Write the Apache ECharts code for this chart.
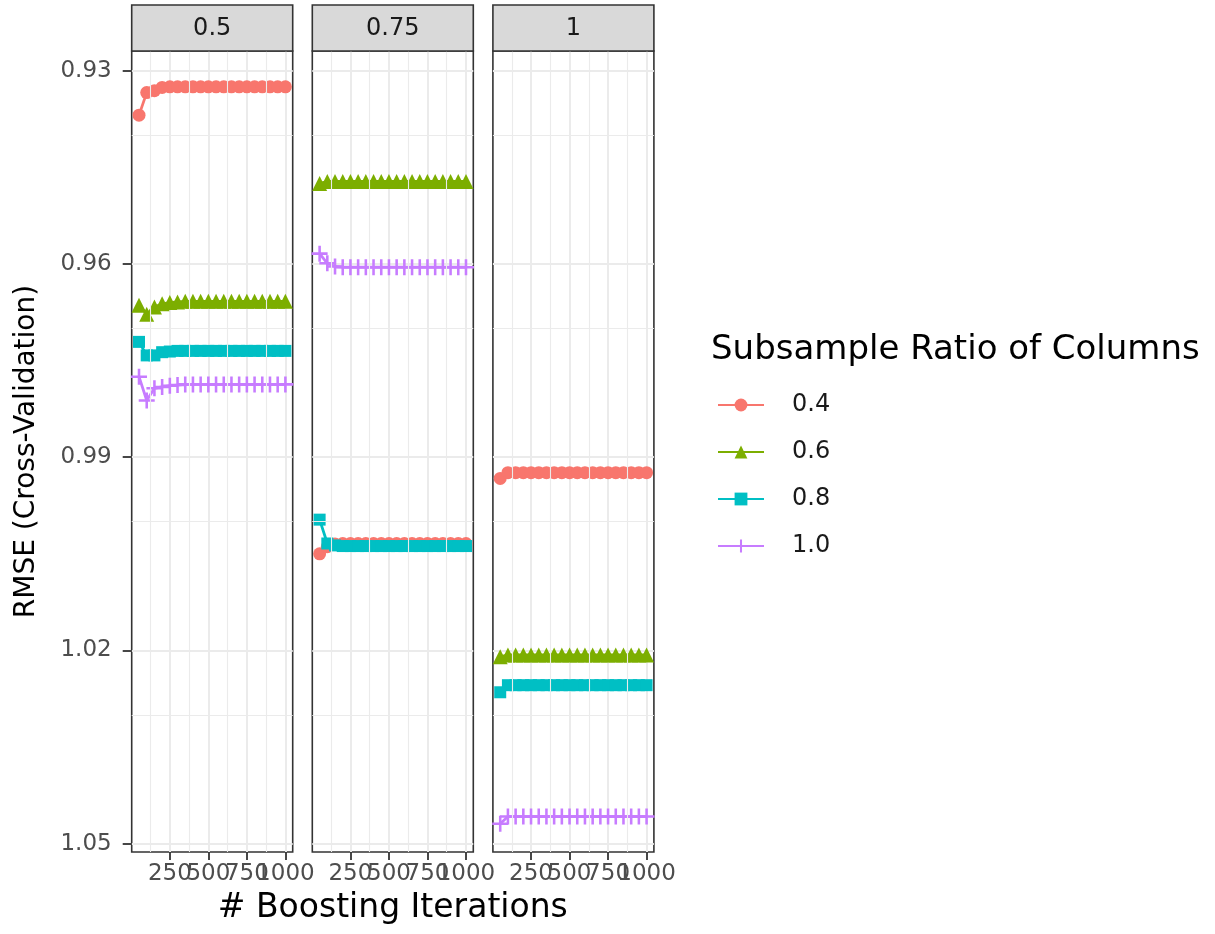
<!DOCTYPE html>
<html>
<head>
<meta charset="utf-8">
<script src="https://cdn.jsdelivr.net/npm/echarts@6/dist/echarts.min.js"></script>
<style>
html,body{margin:0;padding:0;background:#fff;}
#chart{width:1215px;height:934px;}
</style>
</head>
<body>
<div id="chart"></div>
<script>
// ---------- data ----------
const iterations = [50,100,150,200,250,300,350,400,450,500,550,600,650,700,750,800,850,900,950,1000];
const panels = ['0.5','0.75','1'];
const ratios = ['0.4','0.6','0.8','1.0'];
const colors = ['#F8766D','#7CAE00','#00BFC4','#C77CFF'];

// panel 0.5
const p05_r04 = [0.9369,0.9334,0.9331,0.9326,0.9325,0.9325,0.9325,0.9325,0.9325,0.9325,0.9325,0.9325,0.9325,0.9325,0.9325,0.9325,0.9325,0.9325,0.9325,0.9325];
const p05_r06 = [0.9664,0.9678,0.9667,0.9662,0.9660,0.9659,0.9658,0.9658,0.9658,0.9658,0.9658,0.9658,0.9658,0.9658,0.9658,0.9658,0.9658,0.9658,0.9658,0.9658];
const p05_r08 = [0.9721,0.9742,0.9742,0.9737,0.9736,0.9735,0.9735,0.9735,0.9735,0.9735,0.9735,0.9735,0.9735,0.9735,0.9735,0.9735,0.9735,0.9735,0.9735,0.9735];
const p05_r10 = [0.9775,0.9812,0.9793,0.9791,0.9789,0.9788,0.9787,0.9787,0.9787,0.9787,0.9787,0.9787,0.9787,0.9787,0.9787,0.9787,0.9787,0.9787,0.9787,0.9787];
// panel 0.75
const p075_r04 = [1.0050,1.0039,1.0035,1.0034,1.0034,1.0034,1.0034,1.0034,1.0034,1.0034,1.0034,1.0034,1.0034,1.0034,1.0034,1.0034,1.0034,1.0034,1.0034,1.0034];
const p075_r06 = [0.9475,0.9472,0.9472,0.9472,0.9472,0.9472,0.9472,0.9472,0.9472,0.9472,0.9472,0.9472,0.9472,0.9472,0.9472,0.9472,0.9472,0.9472,0.9472,0.9472];
const p075_r08 = [0.9997,1.0034,1.0037,1.0038,1.0038,1.0038,1.0038,1.0038,1.0038,1.0038,1.0038,1.0038,1.0038,1.0038,1.0038,1.0038,1.0038,1.0038,1.0038,1.0038];
const p075_r10 = [0.9584,0.9599,0.9604,0.9605,0.9605,0.9605,0.9605,0.9605,0.9605,0.9605,0.9605,0.9605,0.9605,0.9605,0.9605,0.9605,0.9605,0.9605,0.9605,0.9605];
// panel 1
const p1_r04 = [0.9933,0.9924,0.9924,0.9924,0.9924,0.9924,0.9924,0.9924,0.9924,0.9924,0.9924,0.9924,0.9924,0.9924,0.9924,0.9924,0.9924,0.9924,0.9924,0.9924];
const p1_r06 = [1.0210,1.0207,1.0207,1.0207,1.0207,1.0207,1.0207,1.0207,1.0207,1.0207,1.0207,1.0207,1.0207,1.0207,1.0207,1.0207,1.0207,1.0207,1.0207,1.0207];
const p1_r08 = [1.0265,1.0254,1.0254,1.0254,1.0254,1.0254,1.0254,1.0254,1.0254,1.0254,1.0254,1.0254,1.0254,1.0254,1.0254,1.0254,1.0254,1.0254,1.0254,1.0254];
const p1_r10 = [1.0469,1.0458,1.0458,1.0458,1.0458,1.0458,1.0458,1.0458,1.0458,1.0458,1.0458,1.0458,1.0458,1.0458,1.0458,1.0458,1.0458,1.0458,1.0458,1.0458];

// x ticks split into two interleaved sets so the library does not drop overlapping labels
const xTicksA = [250,750];
const xTicksB = [500,1000];
const xMinor = [125,375,625,875];
const yTicks = [0.93,0.96,0.99,1.02,1.05];
const yMinor = [0.945,0.975,1.005,1.035];

// ---------- layout ----------
const FONT = "'DejaVu Sans', sans-serif";
const panelData = [
  [p05_r04,p05_r06,p05_r08,p05_r10],
  [p075_r04,p075_r06,p075_r08,p075_r10],
  [p1_r04,p1_r06,p1_r08,p1_r10]
];
const gridLefts = [131.7, 312.3, 492.9];
const gridW = 161, gridTop = 51, gridH = 801;
const plusPath = 'path://M4.2,0H5.8V4.2H10V5.8H5.8V10H4.2V5.8H0V4.2H4.2Z';
const symbols = ['circle','triangle','rect',plusPath];
const symbolSizes = [13,15,12,16];

function xAxisFor(i, ticks) {
  return {
    type: 'value', gridIndex: i, min: 2.5, max: 1047.5, position: 'bottom', offset: 0,
    axisLine: {show: false},
    axisTick: {show: true, customValues: ticks, length: 8, lineStyle: {color: '#333333', width: 1.8}},
    axisLabel: {show: true, customValues: ticks, margin: 11, color: '#4D4D4D', fontSize: 23, fontFamily: FONT,
      hideOverlap: false, showMinLabel: true, showMaxLabel: true, formatter: v => String(v)},
    splitLine: {show: true, lineStyle: {color: '#EBEBEB', width: 2}}
  };
}

const grids = [], xAxes = [], yAxes = [], series = [], graphics = [];
panels.forEach((p, i) => {
  grids.push({left: gridLefts[i], top: gridTop, width: gridW, height: gridH,
    show: true, borderColor: '#333333', borderWidth: 1.6, backgroundColor: '#ffffff'});
  xAxes.push(xAxisFor(i, xTicksA));
  xAxes.push(xAxisFor(i, xTicksB));
  yAxes.push({
    type: 'value', gridIndex: i, inverse: true, min: 0.92694, max: 1.0513,
    axisLine: {show: false},
    axisTick: {show: i === 0, customValues: yTicks, length: 9, lineStyle: {color: '#333333', width: 1.8}},
    axisLabel: {show: i === 0, customValues: yTicks, margin: 20, color: '#4D4D4D', fontSize: 23, fontFamily: FONT,
      showMinLabel: true, showMaxLabel: true, formatter: v => Number(v).toFixed(2)},
    splitLine: {show: true, lineStyle: {color: '#EBEBEB', width: 2}},
    name: i === 0 ? 'RMSE (Cross-Validation)' : '',
    nameLocation: 'middle', nameGap: 91,
    nameTextStyle: {fontSize: 28, color: '#000000', fontFamily: FONT}
  });
  // minor grid lines
  series.push({
    type: 'line', xAxisIndex: 2 * i, yAxisIndex: i, data: [], z: 1, silent: true,
    markLine: {
      silent: true, symbol: ['none','none'], label: {show: false}, animation: false,
      lineStyle: {color: '#EBEBEB', width: 1.1, type: 'solid'},
      emphasis: {disabled: true},
      data: xMinor.map(v => ({xAxis: v})).concat(yMinor.map(v => ({yAxis: v})))
    }
  });
  ratios.forEach((r, k) => {
    series.push({
      name: r, type: 'line', xAxisIndex: 2 * i, yAxisIndex: i, z: 3,
      data: iterations.map((x, j) => [x, panelData[i][k][j]]),
      symbol: symbols[k], symbolSize: symbolSizes[k], showAllSymbol: true,
      itemStyle: {color: colors[k], borderWidth: 0},
      lineStyle: {color: colors[k], width: 2.8},
      emphasis: {disabled: true}
    });
  });
  // strip
  graphics.push({type: 'rect', shape: {x: gridLefts[i], y: 5, width: gridW, height: 46},
    style: {fill: '#D9D9D9', stroke: '#333333', lineWidth: 1.6}, z: 10});
  graphics.push({type: 'text', x: gridLefts[i] + gridW / 2, y: 29, z: 11,
    style: {text: p, fill: '#1A1A1A', font: '24px ' + FONT, align: 'center', verticalAlign: 'middle'}});
});

graphics.push({type: 'text', x: (gridLefts[0] + gridLefts[2] + gridW) / 2, y: 908,
  style: {text: '# Boosting Iterations', fill: '#000000', font: '33px ' + FONT, align: 'center', verticalAlign: 'middle'}});
graphics.push({type: 'text', x: 711, y: 350,
  style: {text: 'Subsample Ratio of Columns', fill: '#000000', font: '34px ' + FONT, align: 'left', verticalAlign: 'middle'}});

const option = {
  backgroundColor: '#ffffff',
  animation: false,
  grid: grids, xAxis: xAxes, yAxis: yAxes, series: series,
  legend: {
    data: ratios, orient: 'vertical', left: 717, top: 393, padding: 0,
    itemWidth: 46, itemHeight: 16, itemGap: 23,
    textStyle: {fontSize: 24, color: '#1A1A1A', fontFamily: FONT, padding: [0,0,0,23]}
  },
  graphic: graphics
};
const chart = echarts.init(document.getElementById('chart'));
chart.setOption(option);
</script>
</body>
</html>
